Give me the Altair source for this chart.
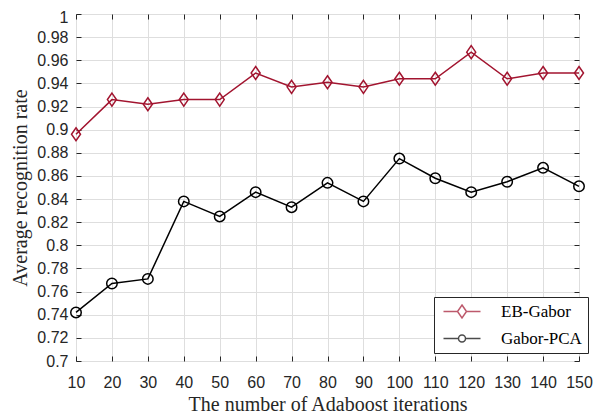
import altair as alt
import pandas as pd

iterations = [10, 20, 30, 40, 50, 60, 70, 80, 90, 100, 110, 120, 130, 140, 150]
eb_gabor = [0.896, 0.926, 0.922, 0.926, 0.926, 0.949, 0.937, 0.941, 0.937, 0.944, 0.944, 0.967, 0.944, 0.949, 0.949]
gabor_pca = [0.742, 0.767, 0.771, 0.838, 0.825, 0.846, 0.833, 0.854, 0.838, 0.875, 0.858, 0.846, 0.855, 0.867, 0.851]
series_names = ["EB-Gabor", "Gabor-PCA"]
series_colors = ["#A2142F", "#000000"]
x_ticks = [10, 20, 30, 40, 50, 60, 70, 80, 90, 100, 110, 120, 130, 140, 150]
y_ticks = [0.70, 0.72, 0.74, 0.76, 0.78, 0.80, 0.82, 0.84, 0.86, 0.88, 0.90,
           0.92, 0.94, 0.96, 0.98, 1.00]

df = pd.DataFrame({
    "iter": iterations + iterations,
    "rate": eb_gabor + gabor_pca,
    "series": [series_names[0]] * len(iterations) + [series_names[1]] * len(iterations),
})

AX = "#262626"
SANS = "Liberation Sans"
SERIF = "Liberation Serif"

diamond = "M0,-1.3L0.9,0L0,1.3L-0.9,0Z"
circle = "M1.05,0A1.05,1.05,0,1,1,-1.05,0A1.05,1.05,0,1,1,1.05,0Z"
leg_diamond = "M-3.7,0L-0.9,0M0.9,0L3.7,0M0,-1.3L0.9,0L0,1.3L-0.9,0Z"
leg_circle = "M-3.7,0L-0.7,0M0.7,0L3.7,0M0.7,0A0.7,0.7,0,1,1,-0.7,0A0.7,0.7,0,1,1,0.7,0Z"

x_scale = alt.Scale(domain=[10, 150], nice=False, zero=False)
y_scale = alt.Scale(domain=[0.7, 1.0], nice=False, zero=False)

base = alt.Chart(df)
eb = base.transform_filter(alt.datum.series == series_names[0])
pca = base.transform_filter(alt.datum.series == series_names[1])

x_main = alt.X("iter:Q", scale=x_scale,
               axis=alt.Axis(orient="bottom", values=x_ticks, offset=-5, tickSize=5,
                             domain=False, grid=True, labelPadding=13, titlePadding=4,
                             labelOverlap=False, labelFlush=False,
                             title="The number of Adaboost iterations"))
y_main = alt.Y("rate:Q", scale=y_scale,
               axis=alt.Axis(orient="left", values=y_ticks, format=".2~f", offset=-5,
                             tickSize=5, domain=False, grid=True, labelPadding=8,
                             labelOverlap=False, labelFlush=False,
                             labelOffset=alt.condition("datum.value >= 0.999", alt.value(3), alt.value(0)),
                             titlePadding=6, title="Average recognition rate"))
x_top = alt.X("iter:Q", scale=x_scale,
              axis=alt.Axis(orient="top", values=x_ticks, offset=-5, tickSize=5,
                            domain=False, grid=False, labels=False, title=None))
y_right = alt.Y("rate:Q", scale=y_scale,
                axis=alt.Axis(orient="right", values=y_ticks, offset=-5, tickSize=5,
                              domain=False, grid=False, labels=False, title=None))
x_none = alt.X("iter:Q", scale=x_scale, axis=None)
y_none = alt.Y("rate:Q", scale=y_scale, axis=None)

line_eb = eb.mark_line(strokeWidth=1.5, color=series_colors[0]).encode(x=x_main, y=y_main)
line_pca = pca.mark_line(strokeWidth=1.5, color=series_colors[1]).encode(x=x_none, y=y_none)
pts_eb = eb.mark_point(filled=False, strokeWidth=1.5, size=100, opacity=1,
                       shape=diamond, color=series_colors[0]).encode(x=x_top, y=y_right)
pts_pca = pca.mark_point(filled=False, strokeWidth=1.5, size=100, opacity=1,
                         shape=circle, color=series_colors[1]).encode(x=x_none, y=y_none)

legend = alt.Legend(
    title=None, orient="none", legendX=358, legendY=283, padding=6,
    strokeColor=AX, fillColor="white", cornerRadius=0,
    labelFont=SERIF, labelFontSize=17, labelColor="black",
    labelExpr="datum.label + '\u00a0\u00a0'",
    rowPadding=8, symbolSize=100, symbolStrokeWidth=1.5,
    symbolOffset=13.5, labelOffset=30.5,
)

legend_layer = base.mark_point(filled=False, strokeWidth=1.5, size=100).encode(
    x=x_none, y=y_none,
    color=alt.Color("series:N", scale=alt.Scale(domain=series_names, range=series_colors),
                    legend=legend),
    shape=alt.Shape("series:N", scale=alt.Scale(domain=series_names, range=[leg_diamond, leg_circle]),
                    legend=legend),
).transform_filter("false")

chart = alt.layer(line_eb, line_pca, pts_eb, pts_pca, legend_layer).resolve_axis(
    x="independent", y="independent"
).properties(
    width=503, height=347,
    autosize=alt.AutoSizeParams(type="none"),
    padding={"left": 68, "top": 6, "right": 16, "bottom": 56},
).configure_view(
    stroke=AX, strokeWidth=1
).configure_axis(
    labelFont=SANS, labelFontSize=16, labelColor=AX,
    tickColor=AX, tickWidth=1,
    titleFont=SERIF, titleFontSize=20, titleFontWeight="normal", titleColor=AX,
    gridColor="#dedede", gridWidth=1, gridOpacity=1,
)

chart.save("out.html", embed_options={"renderer": "svg", "actions": False})
